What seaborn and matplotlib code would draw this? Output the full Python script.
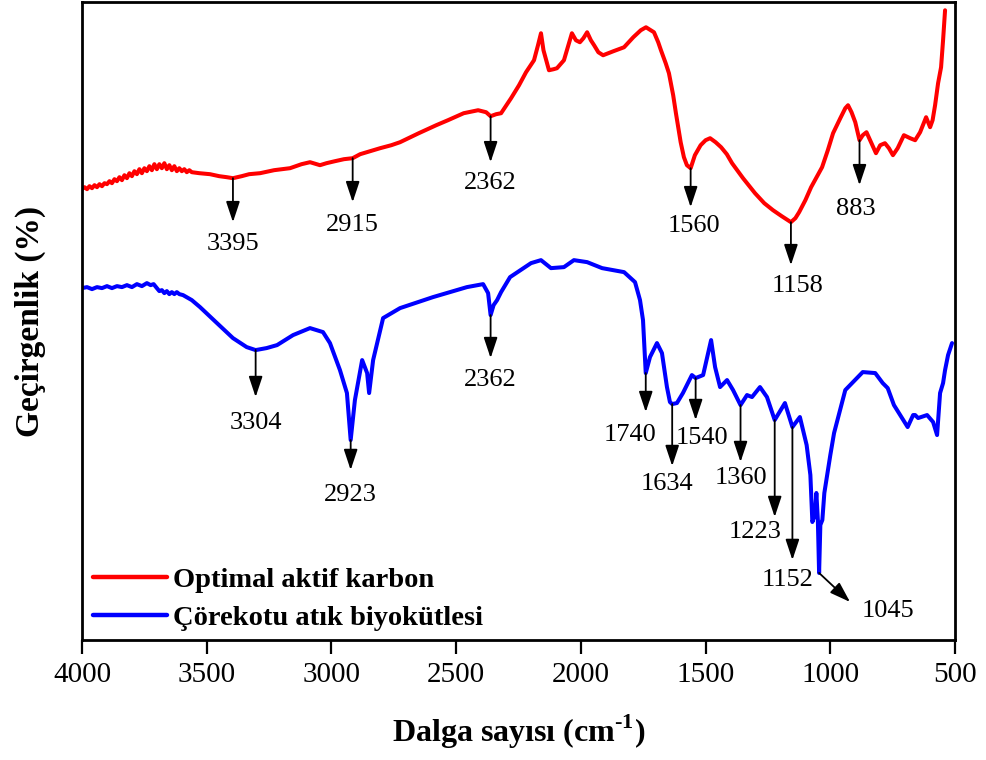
import numpy as np
import pandas as pd
import matplotlib
matplotlib.use("Agg")
import matplotlib.pyplot as plt
import seaborn as sns

# FTIR transmittance spectra (arbitrary transmittance units, vertically offset)
red_wavenumber = [4000, 3990, 3980, 3970, 3960, 3950, 3940, 3930, 3920, 3910,
                  3900, 3890, 3880, 3870, 3860, 3850, 3840, 3830, 3820, 3810,
                  3800, 3790, 3780, 3770, 3760, 3750, 3740, 3730, 3720, 3710,
                  3700, 3690, 3680, 3670, 3660, 3650, 3640, 3630, 3620, 3610,
                  3600, 3590, 3580, 3570, 3560,
                  3530, 3487, 3450, 3420, 3395, 3360, 3330, 3286,
                  3230, 3166, 3120, 3086, 3060, 3046, 3020, 2986, 2950, 2915,
                  2885, 2845, 2805, 2760, 2725, 2650, 2580, 2533, 2470, 2412,
                  2380, 2362, 2340, 2320, 2280, 2248, 2220, 2188, 2172, 2160,
                  2150, 2128, 2110, 2096, 2068, 2050, 2036, 2020, 2004, 1990,
                  1975, 1960, 1947, 1930, 1911, 1870, 1827, 1790, 1760, 1739,
                  1720, 1707, 1690, 1679, 1660, 1647, 1630, 1619, 1600, 1587,
                  1575, 1560, 1543, 1520, 1500, 1482, 1460, 1438, 1415, 1394,
                  1350, 1302, 1265, 1230, 1195, 1158, 1140, 1125, 1100, 1077,
                  1055, 1033, 1010, 989, 960, 940, 929, 915, 900, 883,
                  870, 855, 835, 817, 800, 781, 765, 749, 730, 705,
                  680, 660, 640, 616, 608, 600, 590, 580, 568, 556,
                  548, 540]
red_transmittance = [451, 453, 451, 454, 452, 455, 453, 456, 454, 457,
                     456, 459, 457, 461, 459, 463, 460, 465, 462, 467,
                     464, 469, 466, 471, 467, 472, 469, 474, 470, 476,
                     471, 476, 472, 477, 471, 475, 470, 474, 469, 472,
                     469, 471, 468, 470, 468,
                     467, 466, 464, 463, 462, 464, 466, 467,
                     470, 472, 476, 478, 476, 475, 477, 479, 481, 482,
                     486, 489, 492, 495, 498, 507, 515, 520, 527, 530,
                     528, 524, 526, 527, 542, 555, 568, 580, 595, 607,
                     590, 570, 571, 572, 580, 595, 607, 600, 598, 602,
                     608, 600, 595, 588, 585, 589, 593, 603, 610, 613,
                     610, 608, 598, 590, 577, 567, 545, 527, 498, 483,
                     475, 472, 485, 495, 500, 502, 498, 493, 486, 477,
                     462, 447, 437, 430, 424, 418, 422, 428, 440, 453,
                     463, 473, 490, 507, 522, 532, 535, 528, 518, 500,
                     505, 508, 497, 487, 495, 497, 492, 485, 492, 505,
                     502, 500, 508, 523, 518, 513, 520, 535, 557, 573,
                     600, 630]

blue_wavenumber = [4000, 3980, 3960, 3940, 3920, 3900, 3880, 3860, 3840, 3820,
                   3800, 3780, 3760, 3740, 3725, 3713,
                   3700, 3690, 3680, 3670, 3660, 3650, 3640, 3630, 3620, 3610,
                   3595, 3560, 3527, 3459, 3395,
                   3340, 3304, 3260, 3218, 3154, 3086, 3034, 3006, 2966, 2938,
                   2923, 2906, 2877, 2857, 2849, 2833, 2793, 2725, 2593, 2457,
                   2392, 2372, 2362, 2350, 2336, 2320, 2284, 2200, 2160, 2120,
                   2068, 2028, 1975, 1915, 1827, 1783, 1763, 1751, 1740, 1723,
                   1695, 1675, 1655, 1643, 1634, 1615, 1591, 1555, 1540, 1510,
                   1478, 1462, 1442, 1414, 1390, 1360, 1334, 1314, 1282, 1254,
                   1223, 1182, 1152, 1122, 1095, 1080, 1072, 1062, 1056, 1050,
                   1045, 1040, 1032, 1024, 1000, 985, 940, 870, 820, 790,
                   770, 745, 720, 690, 668, 660, 648, 612, 588, 572,
                   560, 548, 540, 528, 512]
blue_transmittance = [352, 353, 351, 353, 352, 354, 352, 354, 353, 355,
                      353, 356, 354, 357, 355, 356,
                      352, 349, 350, 347, 349, 346, 348, 346, 348, 346,
                      345, 340, 333, 317, 302,
                      293, 290, 292, 295, 305, 312, 308, 297, 270, 247,
                      200, 240, 280, 267, 247, 280, 322, 332, 343, 353,
                      356, 347, 325, 335, 340, 348, 363, 377, 380, 372,
                      373, 380, 378, 372, 368, 358, 340, 320, 267, 283,
                      297, 287, 253, 238, 236, 237, 247, 265, 262, 265,
                      300, 273, 253, 260, 250, 235, 245, 243, 253, 243,
                      220, 237, 213, 223, 195, 165, 118, 125, 147, 120,
                      67, 115, 120, 147, 185, 207, 250, 268, 267, 257,
                      252, 235, 225, 213, 225, 225, 222, 225, 218, 205,
                      247, 257, 270, 285, 297]

series_names = ["Optimal aktif karbon", "Çörekotu atık biyokütlesi"]
series_colors = ["#ff0000", "#0000ff"]

# Band assignments marked on each spectrum
red_bands = [3395, 2915, 2362, 1560, 1158, 883]
blue_bands = [3304, 2923, 2362, 1740, 1634, 1540, 1360, 1223, 1152, 1045]

x_ticks = [4000, 3500, 3000, 2500, 2000, 1500, 1000, 500]

df = pd.concat([
    pd.DataFrame({"wn": red_wavenumber, "T": red_transmittance, "sample": series_names[0]}),
    pd.DataFrame({"wn": blue_wavenumber, "T": blue_transmittance, "sample": series_names[1]}),
], ignore_index=True)

sns.set_theme(style="white")
plt.rcParams["font.family"] = ["Liberation Serif", "DejaVu Serif"]
plt.rcParams["mathtext.fontset"] = "custom"
plt.rcParams["mathtext.rm"] = "Liberation Serif:bold"
plt.rcParams["mathtext.bf"] = "Liberation Serif:bold"
plt.rcParams["text.color"] = "black"
plt.rcParams["axes.labelcolor"] = "black"
plt.rcParams["xtick.color"] = "black"

fig, ax = plt.subplots(figsize=(9.86, 7.6), dpi=100)
fig.subplots_adjust(left=0.0832, right=0.9686, bottom=0.158, top=0.997)

sns.lineplot(data=df, x="wn", y="T", hue="sample", hue_order=series_names,
             palette=dict(zip(series_names, series_colors)),
             estimator=None, sort=False, linewidth=2.9, ax=ax)

ax.set_xlim(4000, 500)
ax.set_ylim(0, 638)
ax.set_xticks(x_ticks)
ax.set_xticklabels([str(t) for t in x_ticks])
ax.set_yticks([])
ax.tick_params(axis="x", which="major", direction="out", length=10, width=1.6,
               bottom=True, labelsize=21, pad=6, colors="black")
for s in ax.spines.values():
    s.set_linewidth(2.0)
    s.set_color("black")

ax.set_xlabel(r"Dalga sayısı (cm$^{\text{-1}}$)", fontsize=23, fontweight="bold", labelpad=18)
ax.set_ylabel("Geçirgenlik (%)", fontsize=24, fontweight="bold", labelpad=26)

arrow_kw = dict(arrowstyle="-|>,head_length=0.9,head_width=0.3", color="black",
                lw=1.3, mutation_scale=14, shrinkA=0, shrinkB=0)

def mark(wn_list, T_list, band, length, label_drop, label_dx=0.0):
    y0 = np.interp(band, wn_list[::-1], T_list[::-1])
    ax.annotate("", xy=(band, y0 - length), xytext=(band, y0), arrowprops=arrow_kw)
    ax.text(band + label_dx, y0 - label_drop, str(band), ha="center", va="center",
            fontsize=19, color="black")

# arrow length, label drop, label shift for each band (axis units)
red_layout = [(44, 66, 0), (44, 67, 0), (46, 67, 0), (39, 58, -15), (43, 64, -25), (45, 69, 15)]
blue_layout = [(47, 73, 0), (30, 55, 0), (43, 65, 0), (39, 62, 64), (62, 80, 20),
               (42, 60, -24), (57, 73, 0), (97, 112, 80), (133, 153, 18)]

for band, (ln, dr, dx) in zip(red_bands, red_layout):
    mark(red_wavenumber, red_transmittance, band, ln, dr, dx)
for band, (ln, dr, dx) in zip(blue_bands[:-1], blue_layout):
    mark(blue_wavenumber, blue_transmittance, band, ln, dr, dx)

# last band gets a diagonal arrow
b = blue_bands[-1]
y0 = np.interp(b, blue_wavenumber[::-1], blue_transmittance[::-1])
ax.annotate("", xy=(b - 124, y0 - 29), xytext=(b, y0), arrowprops=arrow_kw)
ax.text(b - 277, y0 - 38, str(b), ha="center", va="center", fontsize=19, color="black")

leg = ax.legend(title=None, loc="lower left", bbox_to_anchor=(0.012, 0.014),
                frameon=False, prop={"weight": "bold", "size": 20.5},
                handlelength=2.6, handletextpad=0.22, labelspacing=0.42,
                borderpad=0.0, borderaxespad=0.0)
for line in leg.get_lines():
    line.set_linewidth(3.2)
for t in leg.get_texts():
    t.set_color("black")

fig.savefig("out.png", dpi=100)
